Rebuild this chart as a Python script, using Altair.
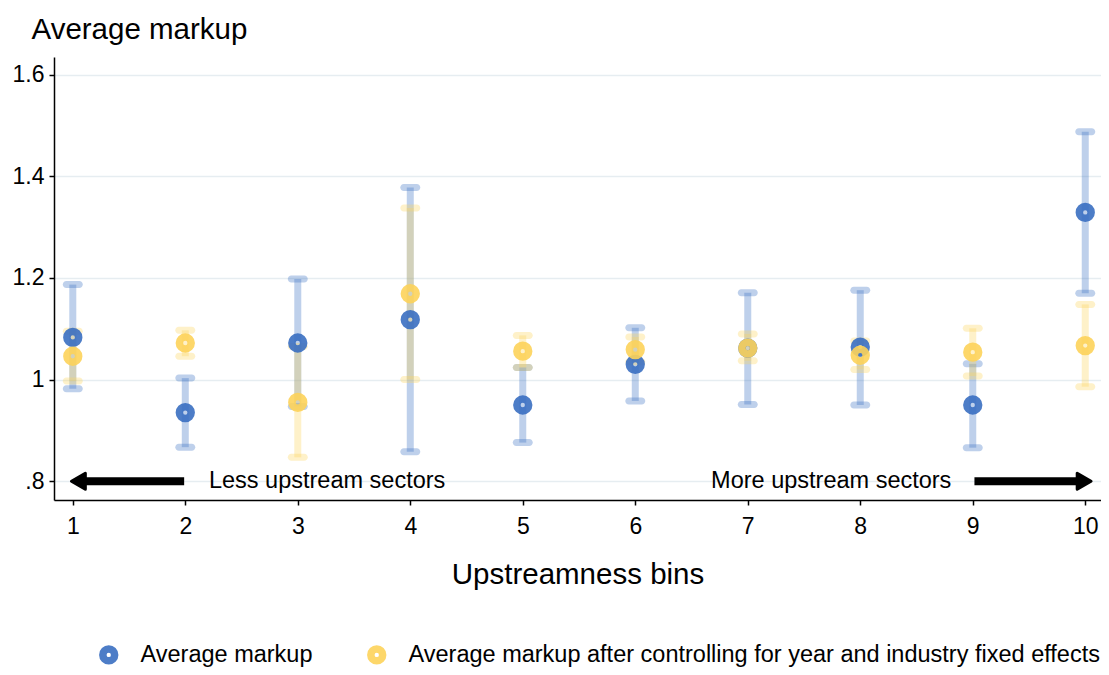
import altair as alt
import pandas as pd

# ---- data ----
bins = [1, 2, 3, 4, 5, 6, 7, 8, 9, 10]
raw_mean = [1.083, 0.935, 1.072, 1.118, 0.950, 1.030, 1.062, 1.064, 0.950, 1.329]
raw_lo = [0.982, 0.867, 0.947, 0.858, 0.876, 0.958, 0.951, 0.950, 0.866, 1.170]
raw_hi = [1.187, 1.003, 1.198, 1.378, 1.024, 1.102, 1.171, 1.176, 1.031, 1.488]
fe_mean = [1.046, 1.072, 0.955, 1.169, 1.056, 1.059, 1.062, 1.048, 1.054, 1.067]
fe_lo = [0.997, 1.046, 0.847, 1.000, 1.024, 1.035, 1.037, 1.020, 1.007, 0.986]
fe_hi = [1.095, 1.097, 1.065, 1.338, 1.087, 1.084, 1.090, 1.076, 1.101, 1.148]

series_names = ["Average markup",
                "Average markup after controlling for year and industry fixed effects"]
series_colors = ["#3a6fc2", "#fdd35a"]

y_ticks = [0.8, 1.0, 1.2, 1.4, 1.6]

# annotation arrows (data coordinates)
arrow_y = [0.8, 0.8]
arrow_body_from = [1.99, 9.015]
arrow_body_to = [1.05, 9.99]
arrow_head_x = [1.05, 9.99]
arrow_head_shape = ["triangle-left", "triangle-right"]
note_text = ["Less upstream sectors", "More upstream sectors"]
note_x = [2.21, 8.81]
note_align = ["left", "right"]

FONT = "Liberation Sans"

rows = []
for s, m, lo, hi in [(series_names[0], raw_mean, raw_lo, raw_hi),
                     (series_names[1], fe_mean, fe_lo, fe_hi)]:
    for b, mm, l, h in zip(bins, m, lo, hi):
        rows.append({"bin": b, "series": s, "mean": mm, "lo": l, "hi": h})
df = pd.DataFrame(rows)

arrows = pd.DataFrame({"x": arrow_body_from, "x2": arrow_body_to, "y": arrow_y,
                       "hx": arrow_head_x, "shape": arrow_head_shape})
notes = pd.DataFrame({"x": note_x, "y": arrow_y, "text": note_text, "align": note_align})

xscale = alt.Scale(domain=[0.833, 10.14], nice=False, zero=False)
yscale = alt.Scale(domain=[0.763, 1.635], nice=False, zero=False)

x_axis = alt.Axis(values=bins, title="Upstreamness bins", grid=False,
                  titleFontSize=29.5, titleFontWeight="normal", titleY=83,
                  titleBaseline="alphabetic", labelPadding=10, format="d")
y_axis = alt.Axis(values=y_ticks, title="Average markup", grid=True,
                  labelExpr="datum.value < 1 ? substring(format(datum.value, '.1f'), 1) : format(datum.value, '~g')",
                  titleAngle=0, titleAlign="left", titleBaseline="alphabetic",
                  titleX=-23, titleY=-19, titleFontSize=29.5, titleFontWeight="normal",
                  labelPadding=5)

layers = []
for name, col in zip(series_names, series_colors):
    sub = alt.Chart(df).transform_filter(alt.datum.series == name)
    rule = sub.mark_rule(strokeWidth=7, opacity=0.33, color=col).encode(
        x=alt.X("bin:Q", scale=xscale, axis=x_axis),
        y=alt.Y("lo:Q", scale=yscale, axis=y_axis),
        y2="hi:Q",
    )
    cap_lo = sub.mark_tick(orient="horizontal", size=20, thickness=7, cornerRadius=3.5,
                           opacity=0.33, color=col).encode(
        x=alt.X("bin:Q", scale=xscale), y=alt.Y("lo:Q", scale=yscale))
    cap_hi = sub.mark_tick(orient="horizontal", size=20, thickness=7, cornerRadius=3.5,
                           opacity=0.33, color=col).encode(
        x=alt.X("bin:Q", scale=xscale), y=alt.Y("hi:Q", scale=yscale))
    layers += [rule, cap_lo, cap_hi]

points = alt.Chart(df).mark_point(filled=False, size=140, strokeWidth=7.5, opacity=0.9).encode(
    x=alt.X("bin:Q", scale=xscale),
    y=alt.Y("mean:Q", scale=yscale),
    color=alt.Color("series:N", scale=alt.Scale(domain=series_names, range=series_colors),
                    legend=alt.Legend(title=None, orient="none", direction="horizontal",
                                      legendX=43, legendY=586, labelFontSize=23.5,
                                      labelFont=FONT, symbolSize=140, symbolStrokeWidth=7.5,
                                      symbolType="circle", labelOffset=20, columnPadding=42,
                                      labelColor="black", labelLimit=0)),
)

arrow_body = alt.Chart(arrows).mark_rule(strokeWidth=8, color="black").encode(
    x=alt.X("x:Q", scale=xscale), x2="x2:Q", y=alt.Y("y:Q", scale=yscale))
arrow_head = alt.Chart(arrows).mark_point(filled=True, size=256, color="black", opacity=1,
                                          stroke="black", strokeWidth=3, strokeJoin="round").encode(
    x=alt.X("hx:Q", scale=xscale), y=alt.Y("y:Q", scale=yscale),
    shape=alt.Shape("shape:N", scale=None))
note_left = alt.Chart(notes).transform_filter(alt.datum.align == "left").mark_text(
    align="left", baseline="middle", fontSize=23.5, font=FONT, color="black").encode(
    x=alt.X("x:Q", scale=xscale), y=alt.Y("y:Q", scale=yscale), text="text:N")
note_right = alt.Chart(notes).transform_filter(alt.datum.align == "right").mark_text(
    align="right", baseline="middle", fontSize=23.5, font=FONT, color="black").encode(
    x=alt.X("x:Q", scale=xscale), y=alt.Y("y:Q", scale=yscale), text="text:N")

chart = alt.layer(*layers, points, arrow_body, arrow_head, note_left, note_right).properties(
    width=1047, height=443,
    autosize=alt.AutoSizeParams(type="none"),
    padding={"left": 46, "top": 49, "right": 0, "bottom": 167},
    background="white",
).configure_view(stroke=None).configure_axis(
    labelFont=FONT, titleFont=FONT, labelFontSize=23, labelColor="black", titleColor="black",
    domainColor="black", domainWidth=1.5, tickColor="black", tickWidth=1.5, tickSize=5,
    gridColor="#e6edf1", gridWidth=1.5,
).configure_text(font=FONT)

chart.save("out.html", embed_options={"renderer": "svg", "actions": False})
